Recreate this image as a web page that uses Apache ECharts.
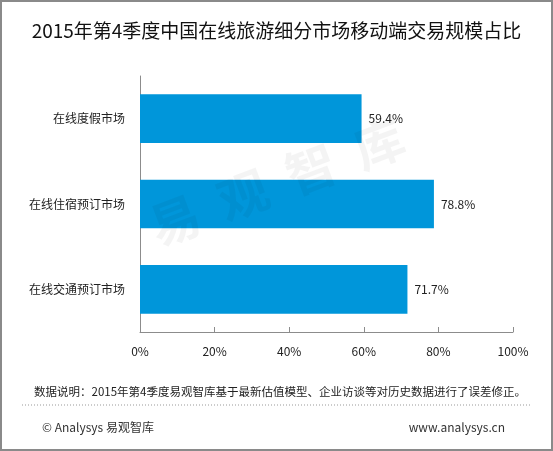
<!DOCTYPE html>
<html>
<head>
<meta charset="utf-8">
<script src="https://cdn.jsdelivr.net/npm/echarts@6/dist/echarts.min.js"></script>
<style>
  html, body { margin: 0; padding: 0; background: #fff; }
  #main { width: 553px; height: 451px; }
</style>
</head>
<body>
<div id="main"></div>
<script>
// 类目与数值（自上而下）
var categories = ['在线度假市场', '在线住宿预订市场', '在线交通预订市场'];
var shareValues = [59.4, 78.8, 71.7];
var tickLabels = ['0%', '20%', '40%', '60%', '80%', '100%'];

var titleText = '2015年第4季度中国在线旅游细分市场移动端交易规模占比';
var noteText = '数据说明：2015年第4季度易观智库基于最新估值模型、企业访谈等对历史数据进行了误差修正。';

var fontCJK = '"Noto Sans CJK SC", "Noto Sans", sans-serif';

var myChart = echarts.init(document.getElementById('main'));
var option = {
    backgroundColor: '#fff',
    animation: false,
    grid: {
        left: 140,
        right: 40,
        top: 76,
        bottom: 119
    },
    xAxis: {
        type: 'value',
        min: 0,
        max: 100,
        interval: 20,
        axisLine: { show: true, lineStyle: { color: '#8c8c8c', width: 1 } },
        axisTick: { show: true, inside: true, length: 5, lineStyle: { color: '#8c8c8c' } },
        splitLine: { show: false },
        axisLabel: {
            margin: 13,
            color: '#222',
            fontSize: 12,
            fontFamily: fontCJK,
            formatter: function (v) { return tickLabels[Math.round(v / 20)]; }
        }
    },
    yAxis: {
        type: 'category',
        inverse: true,
        data: categories,
        axisLine: { show: true, lineStyle: { color: '#8c8c8c', width: 1 } },
        axisTick: { show: false },
        axisLabel: {
            margin: 15,
            color: '#222',
            fontSize: 12,
            fontFamily: fontCJK
        }
    },
    series: [{
        type: 'bar',
        data: shareValues,
        barWidth: '57%',
        itemStyle: { color: '#0096da' },
        label: {
            show: true,
            position: 'right',
            distance: 7,
            color: '#222',
            fontSize: 12,
            fontFamily: fontCJK,
            formatter: function (p) { return p.value.toFixed(1) + '%'; }
        }
    }],
    graphic: [
        // 外框
        {
            type: 'rect',
            shape: { x: 1, y: 1, width: 551, height: 449 },
            style: { fill: 'none', stroke: '#8a8a8a', lineWidth: 2 },
            silent: true
        },
        // 标题
        {
            type: 'text',
            left: 'center',
            top: 21,
            style: {
                text: titleText,
                fill: '#111',
                font: '19px ' + fontCJK
            }
        },
        // 水印
        {
            type: 'text',
            x: 277,
            y: 182,
            rotation: 0.36,
            z: 100,
            silent: true,
            style: {
                text: '易  观  智  库',
                fill: 'rgba(0,0,0,0.045)',
                font: 'bold 50px ' + fontCJK,
                align: 'center',
                verticalAlign: 'middle'
            }
        },
        // 数据说明
        {
            type: 'text',
            left: 34,
            top: 386,
            style: {
                text: noteText,
                fill: '#222',
                font: '11.5px ' + fontCJK
            }
        },
        // 虚线
        {
            type: 'line',
            shape: { x1: 22, y1: 405, x2: 531, y2: 405 },
            style: { stroke: '#999', lineWidth: 1, lineDash: [1, 2] }
        },
        // 页脚
        {
            type: 'text',
            left: 42,
            top: 421,
            style: {
                text: '© Analysys 易观智库',
                fill: '#333',
                font: '12px ' + fontCJK
            }
        },
        {
            type: 'text',
            right: 48,
            top: 421,
            style: {
                text: 'www.analysys.cn',
                fill: '#333',
                font: '12px ' + fontCJK
            }
        }
    ]
};
myChart.setOption(option);
</script>
</body>
</html>
